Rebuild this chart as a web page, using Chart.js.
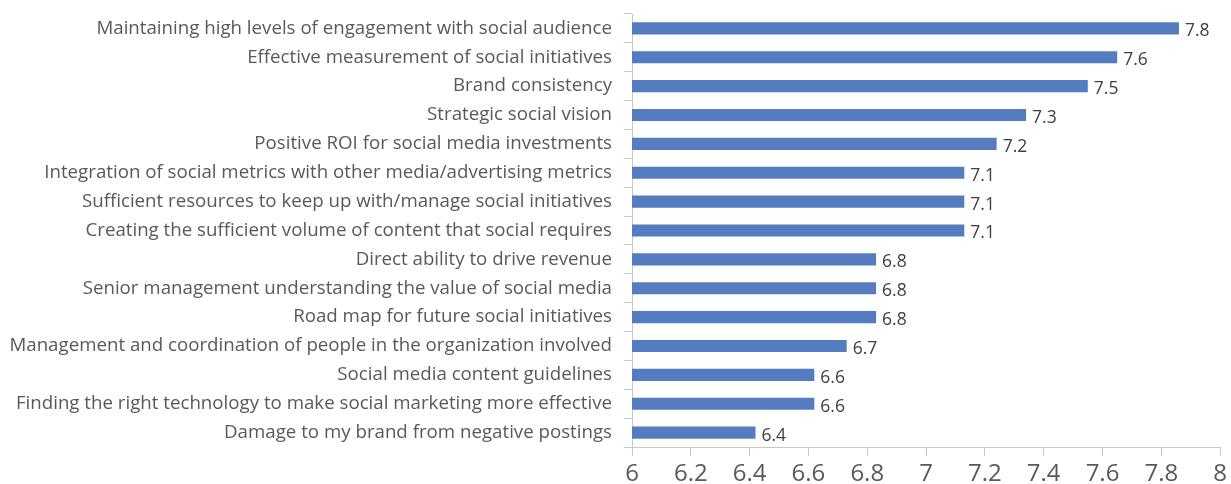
<!DOCTYPE html>
<html>
<head>
<meta charset="utf-8">
<script src="https://cdn.jsdelivr.net/npm/chart.js@4/dist/chart.umd.min.js"></script>
<style>
  html, body { margin: 0; padding: 0; background: #ffffff; }
  #wrap { width: 1231px; height: 484px; position: relative; }
</style>
</head>
<body>
<div id="wrap"><canvas id="c" width="1231" height="484"></canvas></div>
<script>
const categories = [
  "Maintaining high levels of engagement with social audience",
  "Effective measurement of social initiatives",
  "Brand consistency",
  "Strategic social vision",
  "Positive ROI for social media investments",
  "Integration of social metrics with other media/advertising metrics",
  "Sufficient resources to keep up with/manage social initiatives",
  "Creating the sufficient volume of content that social requires",
  "Direct ability to drive revenue",
  "Senior management understanding the value of social media",
  "Road map for future social initiatives",
  "Management and coordination of people in the organization involved",
  "Social media content guidelines",
  "Finding the right technology to make social marketing more effective",
  "Damage to my brand from negative postings"
];
const scores = [7.86, 7.65, 7.55, 7.34, 7.24, 7.13, 7.13, 7.13, 6.83, 6.83, 6.83, 6.73, 6.62, 6.62, 6.42];
const scoreLabels = ["7.8", "7.6", "7.5", "7.3", "7.2", "7.1", "7.1", "7.1", "6.8", "6.8", "6.8", "6.7", "6.6", "6.6", "6.4"];
const xTicks = [6, 6.2, 6.4, 6.6, 6.8, 7, 7.2, 7.4, 7.6, 7.8, 8];

const FONT = "'Open Sans', 'DejaVu Sans', sans-serif";

const valueLabelPlugin = {
  id: 'valueLabels',
  afterDatasetsDraw(chart) {
    const ctx = chart.ctx;
    const meta = chart.getDatasetMeta(0);
    ctx.save();
    ctx.font = "17.5px " + FONT;
    ctx.fillStyle = '#404040';
    ctx.textAlign = 'left';
    ctx.textBaseline = 'middle';
    meta.data.forEach((bar, i) => {
      ctx.fillText(scoreLabels[i], bar.x + 6, bar.y + 3);
    });
    ctx.restore();
  }
};

new Chart(document.getElementById('c'), {
  type: 'bar',
  data: {
    labels: categories,
    datasets: [{
      data: scores,
      backgroundColor: '#557cc0',
      borderWidth: 0,
      barPercentage: 0.42,
      categoryPercentage: 1.0
    }]
  },
  options: {
    indexAxis: 'y',
    responsive: false,
    animation: false,
    devicePixelRatio: 1,
    layout: { padding: { top: 14, right: 0, left: 0, bottom: 0 } },
    plugins: { legend: { display: false }, tooltip: { enabled: false } },
    scales: {
      x: {
        min: 6, max: 8,
        afterBuildTicks(scale) { scale.ticks = xTicks.map(v => ({ value: v })); },
        afterFit(scale) { scale.height = 37; },
        ticks: {
          color: '#595959',
          font: { family: FONT, size: 24 },
          padding: 4,
          maxRotation: 0,
          callback: (v) => String(Math.round(v * 10) / 10)
        },
        grid: { drawOnChartArea: false, drawTicks: true, tickLength: 9, color: '#c8c8c8' },
        border: { display: true, color: '#c8c8c8', width: 1 }
      },
      y: {
        afterFit(scale) { scale.width = 632; scale.paddingTop = 0; scale.paddingBottom = 0; },
        ticks: {
          color: '#595959',
          font: { family: FONT, size: 18.7 },
          padding: 12,
          autoSkip: false
        },
        grid: { drawOnChartArea: false, drawTicks: true, tickLength: 8, offset: true, color: '#c8c8c8' },
        border: { display: true, color: '#c8c8c8', width: 1 }
      }
    }
  },
  plugins: [valueLabelPlugin]
});
</script>
</body>
</html>
